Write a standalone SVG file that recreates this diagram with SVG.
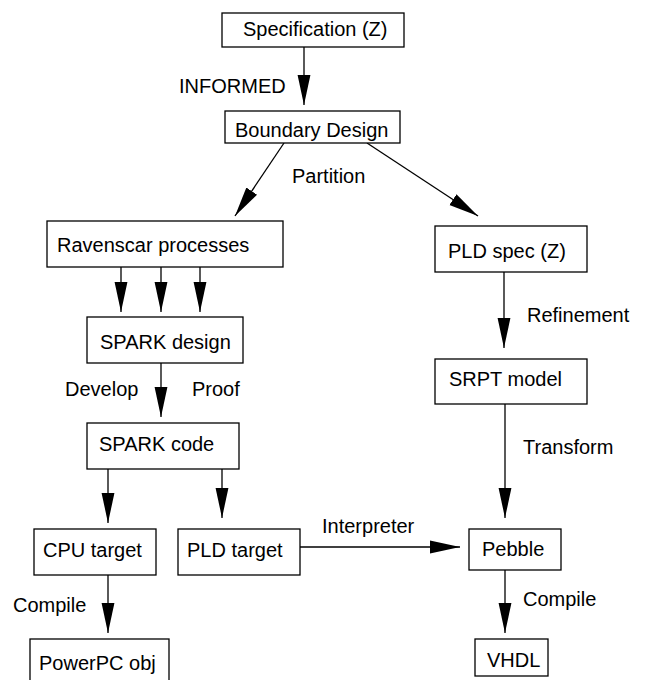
<svg xmlns="http://www.w3.org/2000/svg" width="649" height="680" viewBox="0 0 649 680">
<style>
.box{fill:#fff;stroke:#000;stroke-width:1.3}
.t{font-family:"Liberation Sans",Arial,sans-serif;font-size:20px;fill:#000}
.c{stroke:#000;stroke-width:1.3;fill:none;marker-end:url(#ah)}
</style>
<defs>
<marker id="ah" markerUnits="userSpaceOnUse" markerWidth="30" markerHeight="14" viewBox="0 0 28 12" refX="28" refY="6" orient="auto">
<path d="M0,0 L28,6 L0,12 z" fill="#000"/>
</marker>
</defs>
<rect width="649" height="680" fill="#fff"/>
<g id="connectors">
<line class="c" x1="304" y1="47" x2="304" y2="105"/>
<line class="c" x1="284" y1="143" x2="235" y2="216"/>
<line class="c" x1="367" y1="143" x2="478" y2="216"/>
<line class="c" x1="121" y1="267" x2="121" y2="312"/>
<line class="c" x1="161" y1="267" x2="161" y2="312"/>
<line class="c" x1="200" y1="267" x2="200" y2="312"/>
<line class="c" x1="161" y1="363" x2="161" y2="417"/>
<line class="c" x1="108" y1="469" x2="108" y2="523"/>
<line class="c" x1="222" y1="469" x2="222" y2="518"/>
<line class="c" x1="108" y1="575" x2="108" y2="633"/>
<line class="c" x1="300" y1="547" x2="460" y2="547"/>
<line class="c" x1="504" y1="272" x2="504" y2="348"/>
<line class="c" x1="505" y1="404" x2="505" y2="518"/>
<line class="c" x1="505" y1="570" x2="505" y2="633"/>
<text class="t" x="179" y="93">INFORMED</text>
<text class="t" x="292" y="183">Partition</text>
<text class="t" x="65" y="396">Develop</text>
<text class="t" x="192" y="396">Proof</text>
<text class="t" x="13" y="612">Compile</text>
<text class="t" x="322" y="533">Interpreter</text>
<text class="t" x="527" y="322">Refinement</text>
<text class="t" x="523" y="454">Transform</text>
<text class="t" x="523" y="606">Compile</text>
</g>
<g id="spec"><rect class="box" x="222" y="13" width="182" height="34"/><text class="t" x="243" y="36">Specification (Z)</text></g>
<g id="boundary"><rect class="box" x="225" y="111" width="175" height="32"/><text class="t" x="235" y="137">Boundary Design</text></g>
<g id="ravenscar"><rect class="box" x="47" y="221" width="236" height="46"/><text class="t" x="57" y="252">Ravenscar processes</text></g>
<g id="sparkdesign"><rect class="box" x="87" y="317" width="156" height="46"/><text class="t" x="100" y="349">SPARK design</text></g>
<g id="sparkcode"><rect class="box" x="87" y="423" width="152" height="46"/><text class="t" x="99" y="451">SPARK code</text></g>
<g id="cpu"><rect class="box" x="34" y="529" width="122" height="46"/><text class="t" x="43" y="557">CPU target</text></g>
<g id="pld"><rect class="box" x="178" y="529" width="122" height="46"/><text class="t" x="187" y="557">PLD target</text></g>
<g id="powerpc"><rect class="box" x="30" y="639" width="139" height="50"/><text class="t" x="39" y="670">PowerPC obj</text></g>
<g id="pldspec"><rect class="box" x="435" y="226" width="152" height="46"/><text class="t" x="448" y="258">PLD spec (Z)</text></g>
<g id="srpt"><rect class="box" x="435" y="359" width="152" height="45"/><text class="t" x="449" y="386">SRPT model</text></g>
<g id="pebble"><rect class="box" x="469" y="529" width="92" height="41"/><text class="t" x="482" y="556">Pebble</text></g>
<g id="vhdl"><rect class="box" x="475" y="639" width="73" height="37"/><text class="t" x="487" y="667">VHDL</text></g>
</svg>
